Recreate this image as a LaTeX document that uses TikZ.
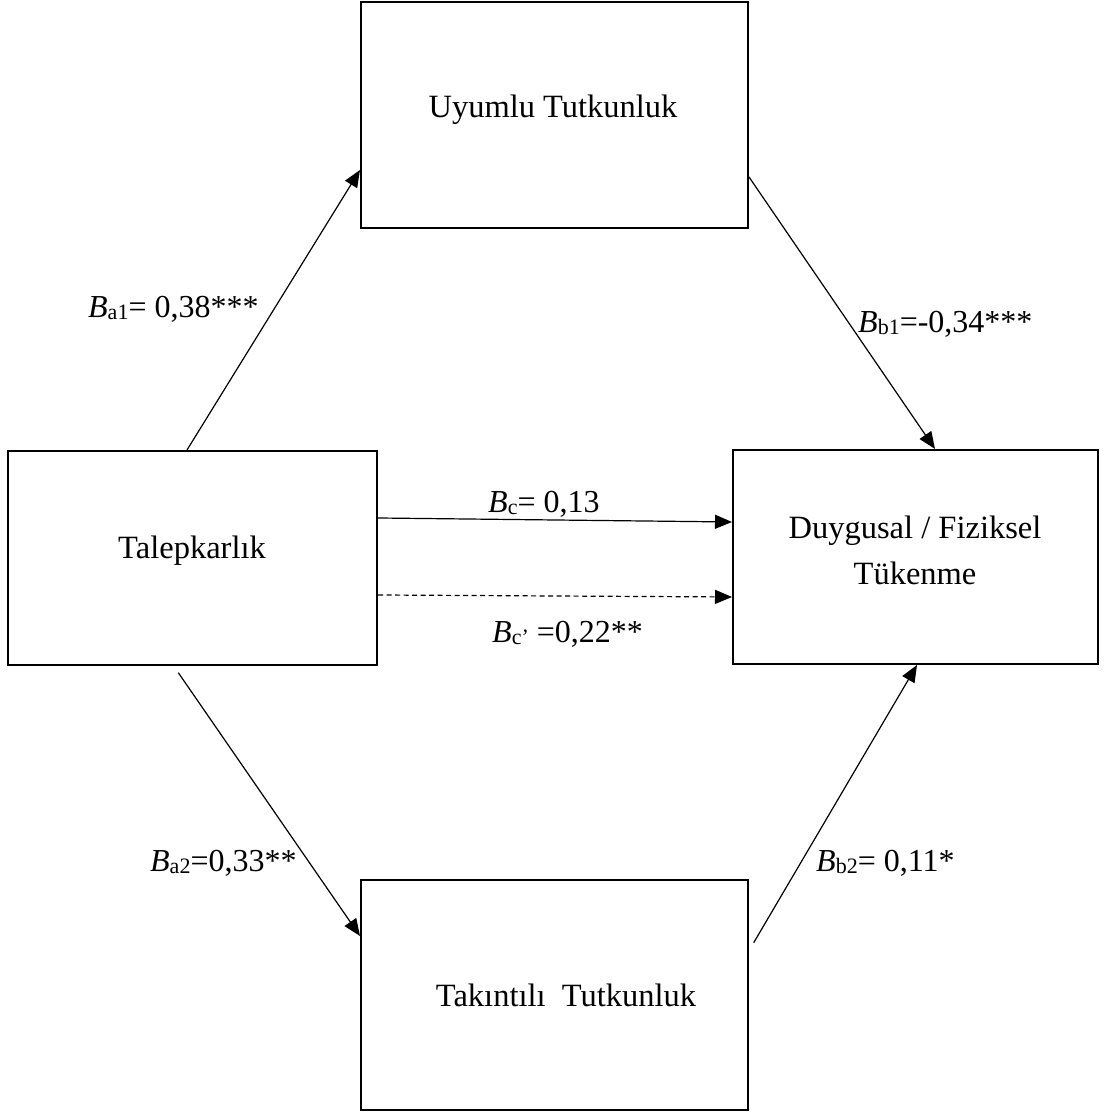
\documentclass[tikz,border=0pt]{standalone}
\usepackage{fontspec}
\setmainfont{Liberation Serif}
\usetikzlibrary{arrows.meta,calc}
\newcommand{\coef}[2]{\textit{B}\raisebox{-2pt}{\fontsize{22}{22}\selectfont #1}#2}
\begin{document}
\begin{tikzpicture}[x=1pt,y=1pt,
  box/.style={draw, line width=2pt, inner sep=0pt},
  txt/.style={font=\fontsize{32.5}{46}\selectfont, align=center, inner sep=0pt},
  lbl/.style={font=\fontsize{32}{40}\selectfont, inner sep=0pt, anchor=base west},
  conn/.style={line width=1.2pt, -{Triangle[length=17pt,width=14pt]}}]
\useasboundingbox (0,0) rectangle (1105,1115);
% boxes
\node[box, minimum width=387, minimum height=226] (uyum) at (554.5,1000) {};
\node[box, minimum width=369, minimum height=214] (talep) at (192.5,557) {};
\node[box, minimum width=365, minimum height=214] (duyg) at (915.5,558) {};
\node[box, minimum width=387, minimum height=230] (tak) at (554.5,120) {};
% box texts
\node[txt] (uyumT) at (553,1005) {Uyumlu Tutkunluk};
\node[txt] (talepT) at (192,564) {Talepkarlık};
\node[txt] (duygT) at (915,565) {Duygusal / Fiziksel\\Tükenme};
\node[txt] (takT) at (566,120) {Takıntılı\ \ Tutkunluk};
% connectors
\draw[conn] ([xshift=-5.5]talep.north) -- ([yshift=-55]uyum.west);
\draw[conn] ([yshift=-62]uyum.east) -- ([xshift=19.5]duyg.north);
\draw[conn] ([yshift=40]talep.east) -- ([yshift=35]duyg.west);
\draw[conn, dash pattern=on 5pt off 3.5pt] ([yshift=-37]talep.east) -- ([yshift=-40]duyg.west);
\draw[conn] ([xshift=-14.2,yshift=-6.7]talep.south) -- ([yshift=59]tak.west);
\draw[conn] ([xshift=4.7,yshift=52.3]tak.east) -- ([xshift=1.5]duyg.south);
% labels
\node[lbl] (la1) at (88,797) {\coef{a1}{= 0,38***}};
\node[lbl] (lb1) at (858,782) {\coef{b1}{=-0,34***}};
\node[lbl] (lc) at (488,602) {\coef{c}{= 0,13}};
\node[lbl] (lcp) at (492,472) {\coef{c’}{ =0,22**}};
\node[lbl] (la2) at (150,243) {\coef{a2}{=0,33**}};
\node[lbl] (lb2) at (816,243) {\coef{b2}{= 0,11*}};
\end{tikzpicture}
\end{document}
